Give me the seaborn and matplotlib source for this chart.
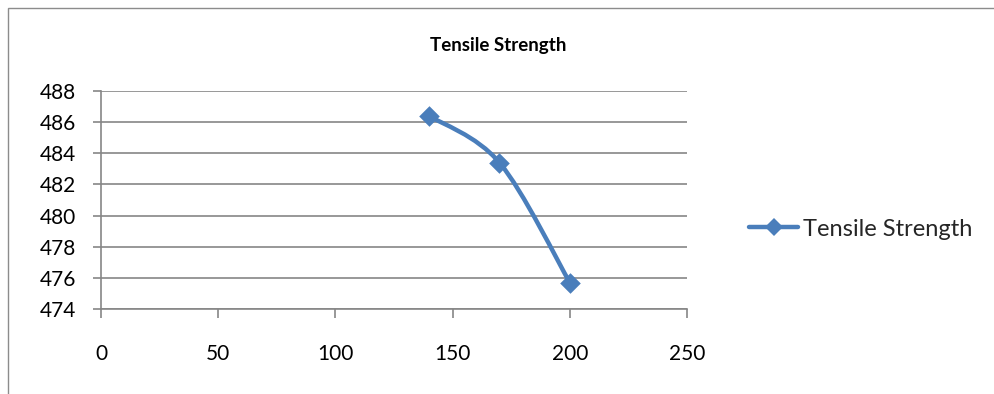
import numpy as np
import pandas as pd
import matplotlib
matplotlib.use("Agg")
import matplotlib.pyplot as plt
from matplotlib.path import Path
from matplotlib.patches import PathPatch, Rectangle
from matplotlib.lines import Line2D
import seaborn as sns

# Data
temperature = [140, 170, 200]
tensile_strength = [486.4, 483.4, 475.7]
series_name = "Tensile Strength"
x_ticks = [0, 50, 100, 150, 200, 250]
y_ticks = [474, 476, 478, 480, 482, 484, 486, 488]

df = pd.DataFrame({"x": temperature, "y": tensile_strength})

sns.set_theme(style="white")
plt.rcParams["font.family"] = ["Lato", "DejaVu Sans"]

BLUE = "#4A7EBB"
GRID = "#868686"

fig = plt.figure(figsize=(9.95, 3.94), dpi=100)
ax = fig.add_axes([101 / 995, 1 - 309 / 394, (687 - 101) / 995, (309 - 91) / 394])

# outer chart frame
fig.patches.append(Rectangle((8 / 995, -0.1), 1.2, 1 - 8 / 394 + 0.1,
                             transform=fig.transFigure, fill=False,
                             edgecolor="#8c8c8c", linewidth=1.0))


def smooth_path(xs, ys, tension=1 / 6):
    """Cubic Bezier path through the points (Catmull-Rom style control points)."""
    pts = np.column_stack([xs, ys]).astype(float)
    verts = [tuple(pts[0])]
    codes = [Path.MOVETO]
    n = len(pts)
    for i in range(n - 1):
        p0 = pts[i - 1] if i > 0 else pts[i]
        p1 = pts[i]
        p2 = pts[i + 1]
        p3 = pts[i + 2] if i + 2 < n else pts[i + 1]
        c1 = p1 + (p2 - p0) * tension
        c2 = p2 - (p3 - p1) * tension
        verts += [tuple(c1), tuple(c2), tuple(p2)]
        codes += [Path.CURVE4] * 3
    return Path(verts, codes)


ax.add_patch(PathPatch(smooth_path(df["x"], df["y"]), facecolor="none",
                       edgecolor=BLUE, linewidth=3.2, capstyle="round",
                       joinstyle="round", zorder=3))
sns.scatterplot(data=df, x="x", y="y", marker="D", s=110, color=BLUE,
                edgecolor=BLUE, linewidth=0, ax=ax, zorder=4)

ax.set_xlim(0, 250)
ax.set_ylim(474, 488)
ax.set_xticks(x_ticks)
ax.set_yticks(y_ticks)
ax.set_xlabel("")
ax.set_ylabel("")

ax.grid(axis="y", color=GRID, linewidth=1.2)
ax.grid(axis="x", visible=False)
ax.set_axisbelow(True)
for side in ["top", "right"]:
    ax.spines[side].set_visible(False)
for side in ["left", "bottom"]:
    ax.spines[side].set_color(GRID)
    ax.spines[side].set_linewidth(1.2)

ax.tick_params(axis="x", direction="out", length=6.5, width=1.2, color=GRID,
               pad=19, labelsize=15, labelcolor="black", bottom=True)
ax.tick_params(axis="y", direction="out", length=6, width=1.2, color=GRID,
               pad=12, labelsize=15, labelcolor="black", left=True)

fig.text(498 / 995, 1 - 46 / 394, series_name, ha="center", va="center",
         fontsize=13.5, fontweight="bold", color="black")

handle = Line2D([], [], color=BLUE, linewidth=3.2, marker="D", markersize=9,
                markeredgewidth=0)
fig.legend([handle], [series_name], loc="center left",
           bbox_to_anchor=(737 / 995, 1 - 229 / 394), frameon=False,
           fontsize=17, handlelength=2.1, handletextpad=0.2, borderpad=0)

fig.savefig("out.png", dpi=100, facecolor="white")
